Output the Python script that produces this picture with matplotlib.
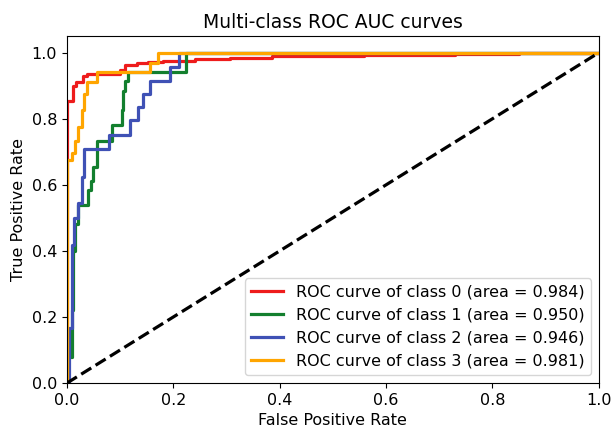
import matplotlib
matplotlib.use('Agg')
import matplotlib.pyplot as plt

# ROC corner points: (fpr, tpr) at each vertical step, drawn with steps-post
fpr0 = [0, 0, 0.011, 0.018, 0.030, 0.037, 0.100, 0.109, 0.131, 0.153, 0.180, 0.241, 0.307, 0.385, 0.558, 0.730, 0.850, 1.0]
tpr0 = [0, 0.855, 0.900, 0.910, 0.930, 0.935, 0.947, 0.962, 0.968, 0.972, 0.976, 0.980, 0.983, 0.990, 0.993, 0.997, 1.0, 1.0]

fpr1 = [0, 0, 0.009, 0.012, 0.015, 0.021, 0.040, 0.046, 0.050, 0.056, 0.084, 0.103, 0.106, 0.109, 0.115, 0.224, 1.0]
tpr1 = [0, 0.080, 0.220, 0.400, 0.480, 0.540, 0.583, 0.613, 0.653, 0.734, 0.780, 0.825, 0.885, 0.915, 0.940, 1.0, 1.0]

fpr2 = [0, 0.004, 0.009, 0.013, 0.021, 0.028, 0.033, 0.080, 0.119, 0.134, 0.144, 0.156, 0.194, 0.210, 1.0]
tpr2 = [0, 0.166, 0.417, 0.500, 0.544, 0.623, 0.709, 0.750, 0.795, 0.835, 0.875, 0.915, 0.958, 1.0, 1.0]

fpr3 = [0, 0, 0.009, 0.015, 0.021, 0.028, 0.032, 0.037, 0.057, 0.156, 0.172, 1.0]
tpr3 = [0, 0.674, 0.695, 0.734, 0.775, 0.825, 0.875, 0.910, 0.940, 0.970, 1.0, 1.0]

aucs = [0.984, 0.950, 0.946, 0.981]
colors = ['#ee1c1c', '#137f2e', '#3f51b5', '#ffa500']

fig = plt.figure(figsize=(6.13, 4.3), dpi=100)
ax = fig.add_axes([0.109, 0.109, 0.868, 0.807])

curves = [(fpr0, tpr0), (fpr1, tpr1), (fpr2, tpr2), (fpr3, tpr3)]
for i, (f, t) in enumerate(curves):
    ax.plot(f, t, drawstyle='steps-post', color=colors[i], lw=2.3,
            label='ROC curve of class {0} (area = {1:0.3f})'.format(i, aucs[i]))

ax.plot([0, 1], [0, 1], 'k--', lw=2.3)
ax.set_xlim(0.0, 1.0)
ax.set_ylim(0.0, 1.05)
ax.set_xlabel('False Positive Rate', fontsize=11.5)
ax.set_ylabel('True Positive Rate', fontsize=11.5)
ax.set_title('Multi-class ROC AUC curves', fontsize=13.5)
ax.tick_params(labelsize=11.5)
ax.legend(loc='lower right', fontsize=11.5)

fig.savefig('out.png', dpi=100)
